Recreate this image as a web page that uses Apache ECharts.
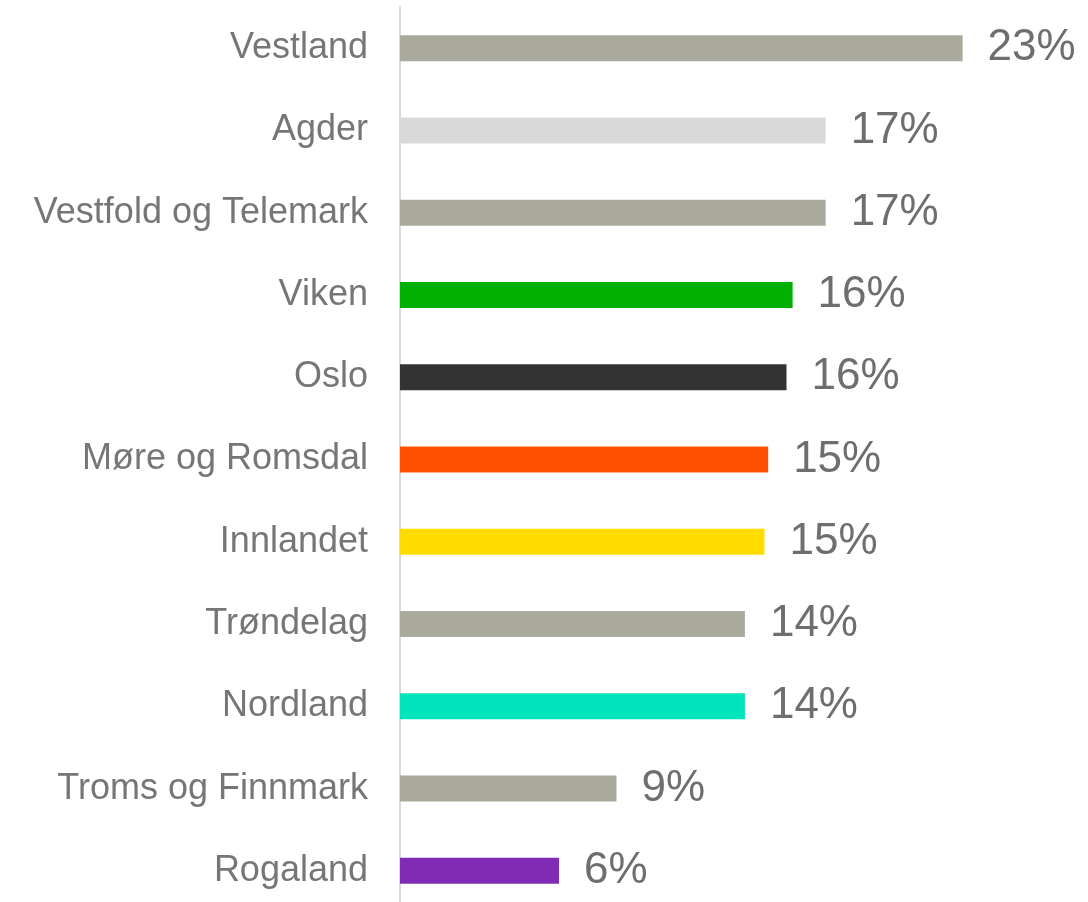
<!DOCTYPE html>
<html>
<head>
<meta charset="utf-8">
<script src="https://cdn.jsdelivr.net/npm/echarts@6/dist/echarts.min.js"></script>
<style>
html, body { margin: 0; padding: 0; background: #fff; }
#chart { width: 1088px; height: 902px; }
</style>
</head>
<body>
<div id="chart"></div>
<script>
var regioner = ['Vestland', 'Agder', 'Vestfold og Telemark', 'Viken', 'Oslo', 'Møre og Romsdal',
    'Innlandet', 'Trøndelag', 'Nordland', 'Troms og Finnmark', 'Rogaland'];
var andel = [23, 17.4, 17.4, 16.05, 15.8, 15.05, 14.9, 14.1, 14.1, 8.85, 6.5];
var etiketter = ['23%', '17%', '17%', '16%', '16%', '15%', '15%', '14%', '14%', '9%', '6%'];
var farger = ['#a9aa9b', '#d9d9d9', '#a9aa9b', '#00b000', '#333333', '#ff5000',
    '#ffdc00', '#a9aa9b', '#00e4bb', '#a9aa9b', '#7f2bb5'];

function lagDiagram() {
    var myChart = echarts.init(document.getElementById('chart'));
    var option = {
        animation: false,
        grid: {
            left: 400,
            top: 7,
            width: 636,
            height: 905,
            outerBoundsMode: 'none'
        },
        xAxis: {
            type: 'value',
            min: 0,
            max: 26,
            show: false
        },
        yAxis: {
            type: 'category',
            inverse: true,
            data: regioner,
            axisTick: {show: false},
            axisLine: {
                lineStyle: {color: '#d9d9d9', width: 2}
            },
            axisLabel: {
                margin: 32,
                color: '#767676',
                fontSize: 36,
                fontFamily: 'Liberation Sans'
            }
        },
        series: [
            {
                type: 'bar',
                barWidth: 26,
                data: andel.map(function (v, i) {
                    return {value: v, itemStyle: {color: farger[i]}};
                }),
                label: {
                    show: true,
                    position: 'right',
                    distance: 25,
                    color: '#6e6e6e',
                    fontSize: 44,
                    fontFamily: 'Liberation Sans',
                    formatter: function (p) {
                        return etiketter[p.dataIndex];
                    }
                }
            }
        ]
    };
    myChart.setOption(option);
}
lagDiagram();
</script>
</body>
</html>
